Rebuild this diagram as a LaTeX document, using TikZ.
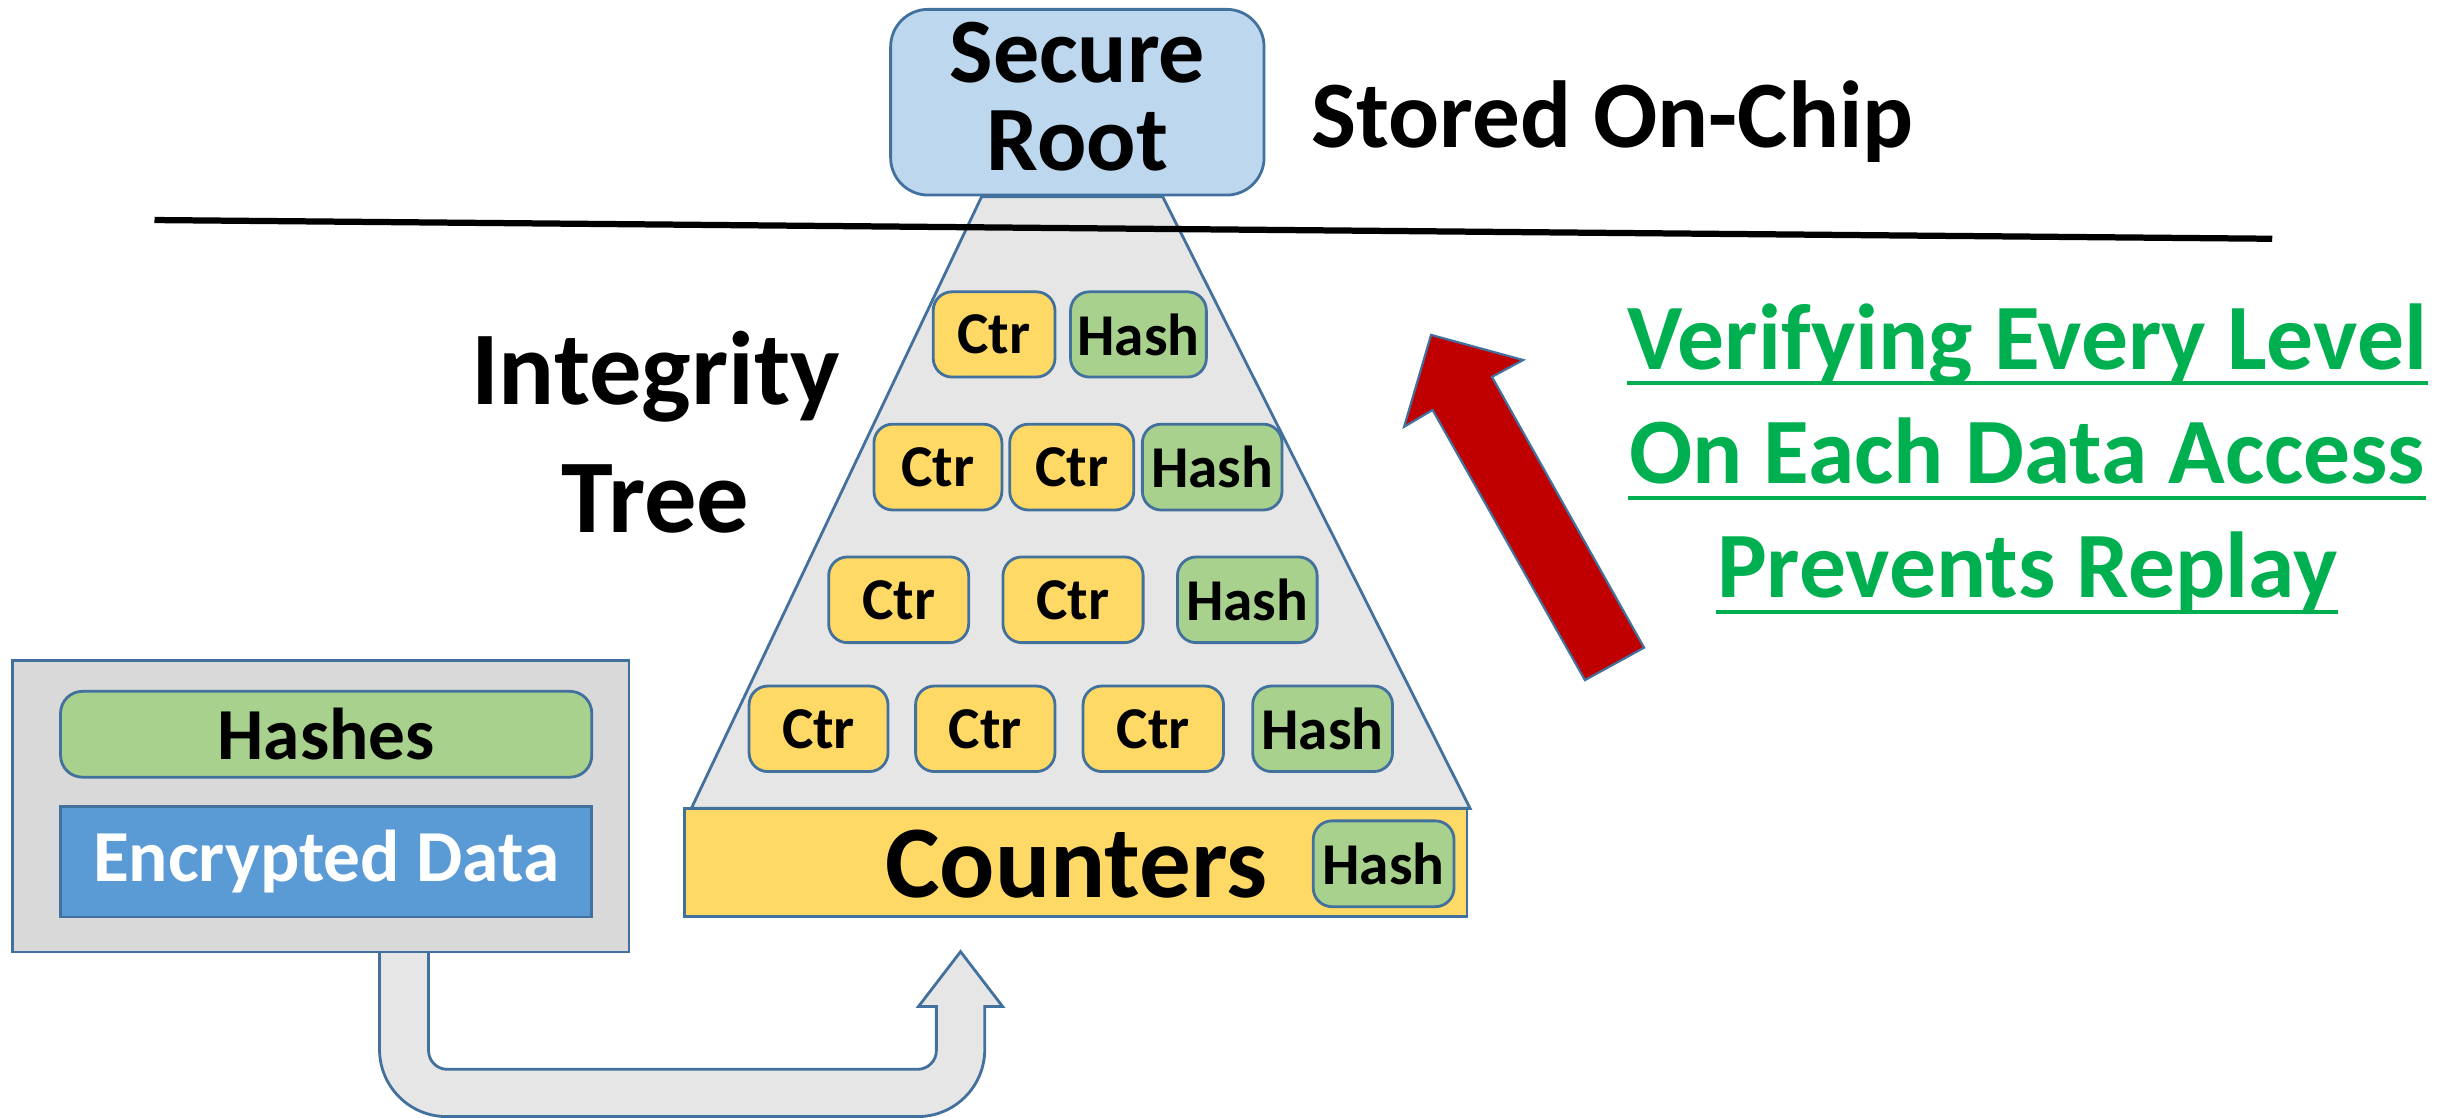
\documentclass[tikz,border=0pt]{standalone}
\usepackage{fontspec}
\setmainfont{Carlito}
\usetikzlibrary{calc}

\definecolor{edge}{HTML}{41719C}
\definecolor{rootblue}{HTML}{BDD7EE}
\definecolor{ctryellow}{HTML}{FFD966}
\definecolor{hashgreen}{HTML}{A9D18E}
\definecolor{treegray}{HTML}{E7E6E6}
\definecolor{boxgray}{HTML}{D9D9D9}
\definecolor{datablue}{HTML}{5B9BD5}
\definecolor{arrowred}{HTML}{C00000}
\definecolor{textgreen}{HTML}{00B050}

% box placed from its two corners (units of the picture grid)
\newcommand\cellbox[7]{%
  \pgfmathsetmacro\cbx{(#2+#4)/2}\pgfmathsetmacro\cby{(#3+#5)/2}%
  \pgfmathsetmacro\cbw{(#4-#2)*0.5}\pgfmathsetmacro\cbh{(#5-#3)*0.5}%
  \node[#6, minimum width=\cbw pt, minimum height=\cbh pt] (#1) at (\cbx,\cby) {#7};}

\tikzset{
  outline/.style={draw=edge, line width=0.9pt},
  ctrbox/.style={outline, fill=ctryellow, rounded corners=6pt, inner sep=0pt,
    font=\fontsize{19}{19}\selectfont\bfseries},
  hashbox/.style={outline, fill=hashgreen, rounded corners=6pt, inner sep=0pt,
    font=\fontsize{19}{19}\selectfont\bfseries},
  bigtext/.style={inner sep=0pt, font=\fontsize{33.5}{41}\selectfont\bfseries, align=center},
  claim/.style={inner sep=0pt, text=textgreen, font=\fontsize{30}{30}\selectfont\bfseries},
  claimline/.style={draw=textgreen, line width=1.3pt},
}

\begin{document}
\begin{tikzpicture}[x=0.5pt, y=-0.5pt]
\useasboundingbox (0,0) rectangle (1568,716);

% tree body
\draw[outline, fill=treegray] (629,126) -- (745,126) -- (942,518) -- (443,518) -- cycle;

% on-chip boundary
\draw[line width=2pt] (99,141) coordinate (lineL) -- (1456,153) coordinate (lineR);

% secure root
\cellbox{root}{570.7}{6}{810}{125}{outline, fill=rootblue, rounded corners=12pt, inner sep=0pt}{}
\node[inner sep=0pt, font=\fontsize{29.5}{28}\selectfont\bfseries, align=center]
  (rootlabel) at (690.4,62) {Secure\\Root};

\node[anchor=base west, inner sep=0pt, font=\fontsize{30.5}{30.5}\selectfont\bfseries]
  (onchip) at (840,94.5) {Stored On-Chip};

% tree levels
\cellbox{c11}{598}{187}{676}{241.6}{ctrbox}{Ctr}
\cellbox{h1}{686}{187}{773}{241.6}{hashbox}{Hash}

\cellbox{c21}{560}{271.8}{642}{326.8}{ctrbox}{Ctr}
\cellbox{c22}{647}{271.8}{726.5}{326.8}{ctrbox}{Ctr}
\cellbox{h2}{732}{271.8}{821.5}{326.8}{hashbox}{Hash}

\cellbox{c31}{531}{356.9}{620.7}{411.8}{ctrbox}{Ctr}
\cellbox{c32}{642.7}{356.9}{732.5}{411.8}{ctrbox}{Ctr}
\cellbox{h3}{754.5}{356.9}{844}{411.8}{hashbox}{Hash}

\cellbox{c41}{480}{439.6}{569}{494.4}{ctrbox}{Ctr}
\cellbox{c42}{586.7}{439.6}{676}{494.4}{ctrbox}{Ctr}
\cellbox{c43}{694}{439.6}{784}{494.4}{ctrbox}{Ctr}
\cellbox{h4}{802.7}{439.6}{892.3}{494.4}{hashbox}{Hash}

% counter leaves
\cellbox{counters}{438.7}{518}{940}{587.5}{outline, fill=ctryellow, inner sep=0pt}{}
\node[inner sep=0pt, anchor=base, font=\fontsize{33}{33}\selectfont\bfseries]
  (ctrlabel) at (689.7,575) {Counters};
\cellbox{h5}{841.5}{526}{931.7}{581}{hashbox}{Hash}

\node[bigtext] (treelabel) at (420,277) {Integrity\\Tree};

% data flows up into the counters
\draw[outline, fill=treegray]
  (243.2,600) -- (243.2,672.5)
  [rounded corners=21.5pt] -- (243.2,715.5) -- (631,715.5) [sharp corners] -- (631,672.5)
  -- (631,645) -- (642.5,645) -- (615.5,609.8) coordinate (uptip) -- (588.5,645) -- (600,645)
  -- (600,673) [rounded corners=6pt] -- (600,685.2) -- (274.6,685.2) [sharp corners] -- (274.6,673)
  -- (274.6,600) -- cycle;

% off-chip memory
\cellbox{memory}{8.2}{423}{403}{610}{outline, fill=boxgray, inner sep=0pt}{}
\cellbox{hashes}{38.8}{443}{379.2}{498}{outline, fill=hashgreen, rounded corners=7pt, inner sep=0pt,
  font=\fontsize{23.5}{23.5}\selectfont\bfseries}{Hashes}
\cellbox{data}{38.8}{517}{379.2}{587.6}{outline, fill=datablue, inner sep=0pt, text=white,
  font=\fontsize{23.5}{23.5}\selectfont\bfseries}{Encrypted Data}

% verification direction
\draw[draw=edge, line width=0.7pt, fill=arrowred]
  (917,214.6) -- (976,230.7) -- (956,241.5) -- (1053.5,415) -- (1015.6,435.8)
  -- (918,262.7) -- (899.7,273.5) -- cycle;

% claim
\node[claim, anchor=base] (claim1) at (1299,236.5) {Verifying Every Level};
\node[claim, anchor=base] (claim2) at (1299,310) {On Each Data Access};
\node[claim, anchor=base] (claim3) at (1299,383) {Prevents Replay};
\foreach \n in {claim1,claim2,claim3}
  \draw[claimline] ($(\n.base west)+(0,9.2)$) -- ($(\n.base east)+(0,9.2)$);
\end{tikzpicture}
\end{document}
